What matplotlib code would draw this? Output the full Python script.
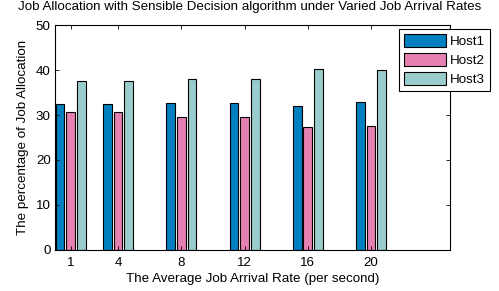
import numpy as np
import matplotlib
matplotlib.use("Agg")
import matplotlib.pyplot as plt

plt.rcParams["font.family"] = ["Liberation Sans", "DejaVu Sans"]

rates = [1, 4, 8, 12, 16, 20]
host1 = [32.4, 32.4, 32.6, 32.6, 32.0, 33.0]
host2 = [30.6, 30.6, 29.6, 29.6, 27.3, 27.6]
host3 = [37.6, 37.6, 38.0, 38.0, 40.2, 39.9]
labels = ["Host1", "Host2", "Host3"]
colors = ["#0080C0", "#E680B3", "#99CCCC"]

fs = 9.6
fig = plt.figure(figsize=(4.99, 2.91), dpi=100)
ax = fig.add_axes([0.110, 0.141, 0.792, 0.773])

x = np.array(rates, dtype=float)
off, w = 0.67, 0.55
for i, (vals, lab, c) in enumerate(zip([host1, host2, host3], labels, colors)):
    ax.bar(x + (i - 1) * off, vals, w, color=c, edgecolor="black", linewidth=0.8, label=lab)

ax.set_xlim(0, 25)
ax.set_ylim(0, 50)
ax.set_xticks(rates)
ax.set_yticks(range(0, 51, 10))
ax.tick_params(direction="in", top=True, right=True, labelsize=fs, length=3, width=0.6)
ax.tick_params(axis="x", pad=5)
ax.tick_params(axis="y", pad=3)
for s in ax.spines.values():
    s.set_linewidth(0.8)
ax.set_xlabel("The Average Job Arrival Rate (per second)", fontsize=fs, labelpad=3)
ax.set_ylabel("The percentage of Job Allocation", fontsize=fs, labelpad=5)
fig.text(0.5, 0.995, "Job Allocation with Sensible Decision algorithm under Varied Job Arrival Rates",
         ha="center", va="top", fontsize=fs)

leg = ax.legend(loc="upper right", bbox_to_anchor=(0.982, 0.900), bbox_transform=fig.transFigure,
                fontsize=fs, fancybox=False, framealpha=1, edgecolor="black",
                handlelength=3.2, handleheight=1.1, borderpad=0.35, labelspacing=0.4,
                handletextpad=0.3, borderaxespad=0)
leg.get_frame().set_linewidth(0.8)

fig.savefig("out.png", dpi=100)
